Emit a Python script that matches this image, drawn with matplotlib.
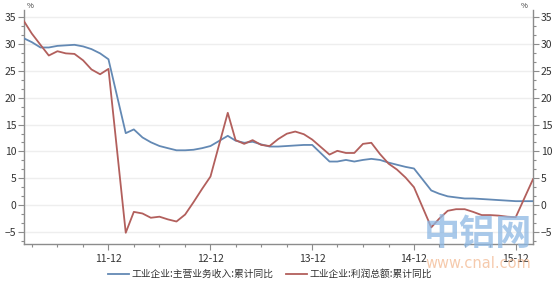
import datetime as dt

import matplotlib
matplotlib.use("Agg")
import matplotlib.dates as mdates
import matplotlib.pyplot as plt
from matplotlib.ticker import AutoMinorLocator, MultipleLocator

plt.rcParams["font.family"] = ["Noto Sans CJK SC", "DejaVu Sans"]

# months Feb..Dec for 2011-2015, then 2016-02 (January is not published)
MONTHS = [(y, m) for y in range(2011, 2016) for m in range(2, 13)] + [(2016, 2)]

REVENUE = [
    31.1, 30.4, 29.4, 29.4, 29.7, 29.8, 29.9, 29.6, 29.1, 28.3, 27.2,
    13.4, 14.1, 12.6, 11.7, 11.0, 10.6, 10.2, 10.2, 10.3, 10.6, 11.0,
    12.9, 12.0, 11.6, 11.8, 11.3, 10.9, 10.9, 11.0, 11.1, 11.2, 11.2,
    8.1, 8.1, 8.4, 8.1, 8.4, 8.6, 8.4, 7.9, 7.5, 7.1, 6.8,
    2.7, 2.1, 1.6, 1.4, 1.2, 1.2, 1.1, 1.0, 0.9, 0.8, 0.7,
    0.7,
]
PROFIT = [
    34.3, 32.0, 29.9, 27.9, 28.7, 28.3, 28.2, 27.0, 25.3, 24.4, 25.4,
    -5.2, -1.3, -1.6, -2.4, -2.2, -2.7, -3.1, -1.8, 0.5, 3.0, 5.3,
    17.2, 12.1, 11.4, 12.1, 11.2, 11.0, 12.3, 13.3, 13.7, 13.2, 12.2,
    9.4, 10.1, 9.7, 9.7, 11.4, 11.6, 9.5, 7.7, 6.6, 5.1, 3.3,
    -4.2, -2.6, -1.1, -0.8, -0.8, -1.3, -1.9, -1.9, -2.0, -2.2, -2.3,
    4.8,
]
LABELS = ["工业企业:主营业务收入:累计同比", "工业企业:利润总额:累计同比"]

BLUE = "#6389b4"
RED = "#b25f5c"
AXIS = "#8c8c8c"
TEXT = "#333333"

dates = [dt.date(y, m, 1) for y, m in MONTHS]

fig = plt.figure(figsize=(5.59, 2.90), dpi=100)
ax = fig.add_axes([24 / 559, 46 / 290, 509 / 559, 234 / 290])

ax.plot(dates, REVENUE, color=BLUE, lw=1.3, label=LABELS[0], zorder=3)
ax.plot(dates, PROFIT, color=RED, lw=1.3, label=LABELS[1], zorder=3)

ax.set_xlim(dt.date(2011, 2, 1), dt.date(2016, 2, 1))
ax.set_ylim(-7.3, 36.4)

ax.xaxis.set_major_locator(mdates.MonthLocator(bymonth=[12]))
ax.xaxis.set_major_formatter(mdates.DateFormatter("%y-%m"))
ax.xaxis.set_minor_locator(mdates.MonthLocator(bymonth=[3, 6, 9, 12]))
ax.yaxis.set_major_locator(MultipleLocator(5))
ax.yaxis.set_minor_locator(AutoMinorLocator(3))

ax.tick_params(which="both", direction="out", color=AXIS, labelsize=7.5,
               labelcolor=TEXT, right=True, labelright=True)
ax.tick_params(which="major", length=4, width=0.8, pad=1.5)
ax.tick_params(which="minor", length=2.5, width=0.8)
ax.tick_params(axis="x", pad=3)

for side in ("left", "right", "bottom"):
    ax.spines[side].set_color(AXIS)
    ax.spines[side].set_linewidth(1.0)
ax.spines["top"].set_visible(False)

ax.grid(axis="y", color="#eeeeee", lw=1.0, zorder=0)
ax.set_axisbelow(True)

ax.text(0.005, 1.0, "%", transform=ax.transAxes, fontsize=5.5, color=TEXT,
        ha="left", va="bottom")
ax.text(0.99, 1.0, "%", transform=ax.transAxes, fontsize=5.5, color=TEXT,
        ha="right", va="bottom")

ax.legend(loc="center", bbox_to_anchor=(270 / 559, 16 / 290),
          bbox_transform=fig.transFigure, ncol=2, frameon=False,
          fontsize=7, handlelength=2.2, handletextpad=0.3, columnspacing=1.2,
          labelcolor=TEXT)

# watermark
fig.text(478 / 559, 1 - 234 / 290, "中铝网", fontsize=26, fontweight="bold",
         color="#8db8e3", alpha=0.75, ha="center", va="center", zorder=10)
fig.text(478 / 559, 1 - 263 / 290, "www.cnal.com", fontsize=10.5,
         family="DejaVu Sans", color="#f2b48a", alpha=0.7, ha="center",
         va="center", zorder=10)

fig.savefig("out.png", dpi=100, facecolor="white")
